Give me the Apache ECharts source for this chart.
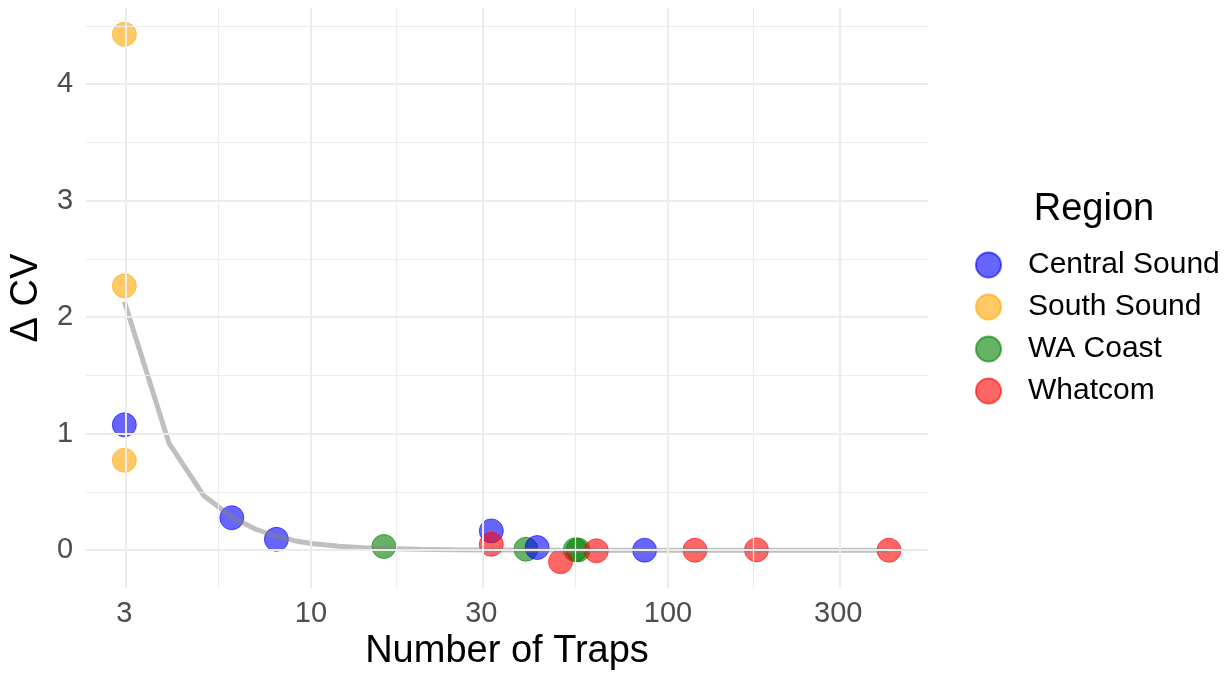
<!DOCTYPE html>
<html lang="en">
<head>
    <meta charset="UTF-8">
    <script src="https://cdn.jsdelivr.net/npm/echarts@6/dist/echarts.min.js"></script>
    <title>Delta CV vs Number of Traps</title>
    <style>
        body { margin: 0; background: #fff; }
    </style>
</head>
<body>
<div id="main" style="width: 1230px;height:676px;"></div>
<script type="text/javascript">
    var myChart = echarts.init(document.getElementById('main'));

    // data: number of traps (x) and delta CV (y)
    var centralTraps = [3, 6, 8, 32, 43, 86];
    var centralCV = [1.076, 0.279, 0.094, 0.166, 0.023, 0.0];
    var southTraps = [3, 3, 3];
    var southCV = [4.427, 2.269, 0.772];
    var coastTraps = [16, 40, 55, 56];
    var coastCV = [0.032, 0.009, 0.004, 0.002];
    var whatcomTraps = [32, 50, 63, 119, 177, 416];
    var whatcomCV = [0.051, -0.099, -0.005, 0.0, 0.003, 0.0];

    // fitted curve (grey line)
    var fitTraps = [3, 4, 5, 6, 7, 8, 9, 10, 12, 14, 16, 20, 25, 30, 40, 60, 100, 200, 416];
    var fitCV = [2.135, 0.92, 0.47, 0.285, 0.18, 0.12, 0.082, 0.058, 0.035, 0.022, 0.015, 0.008, 0.004, 0.002, 0.001, 0, 0, 0, 0];

    var xTicks = [3, 10, 30, 100, 300];
    var yTicks = [0, 1, 2, 3, 4];
    var regions = ['Central Sound', 'South Sound', 'WA Coast', 'Whatcom'];

    var font = "'Liberation Sans', Arial, sans-serif";

    function pairs(xs, ys) {
        return xs.map(function (x, i) { return [Math.log10(x), ys[i]]; });
    }

    // grid lines: majors at ticks, minors halfway (in log space for x)
    var xMajor = xTicks.map(Math.log10);
    var xMinor = [];
    for (var i = 0; i < xMajor.length - 1; i++) xMinor.push((xMajor[i] + xMajor[i + 1]) / 2);
    var yMinor = [-0.5];
    for (var j = 0; j < yTicks.length; j++) yMinor.push(yTicks[j] + 0.5);

    var gridLines = [];
    xMinor.forEach(function (v) { gridLines.push({xAxis: v, lineStyle: {width: 1.2}}); });
    yMinor.forEach(function (v) { if (v > -0.325 && v < 4.653) gridLines.push({yAxis: v, lineStyle: {width: 1.2}}); });
    xMajor.forEach(function (v) { gridLines.push({xAxis: v, lineStyle: {width: 2}}); });
    yTicks.forEach(function (v) { gridLines.push({yAxis: v, lineStyle: {width: 2}}); });

    function pointSeries(name, xs, ys, rgb) {
        var c = 'rgba(' + rgb + ',0.6)';
        return {
            name: name,
            type: 'scatter',
            symbolSize: 24,
            itemStyle: { color: c, borderColor: c, borderWidth: 1, opacity: 1 },
            data: pairs(xs, ys),
            z: 3
        };
    }

    option = {
        animation: false,
        grid: { left: 86, top: 8, width: 842, height: 582 },
        xAxis: {
            type: 'value',
            min: 0.3698,
            max: 2.7284,
            name: 'Number of Traps',
            nameLocation: 'middle',
            nameGap: 41,
            nameTextStyle: { fontSize: 38, color: '#000', fontFamily: font },
            axisLine: { show: false },
            axisTick: { show: false },
            splitLine: { show: false },
            axisLabel: {
                customValues: xMajor,
                formatter: function (v) { return String(Math.round(Math.pow(10, v))); },
                fontSize: 29, color: '#4D4D4D', fontFamily: font, margin: 11
            }
        },
        yAxis: {
            type: 'value',
            min: -0.325,
            max: 4.653,
            name: '\u0394 CV',
            nameLocation: 'middle',
            nameGap: 35,
            nameRotate: 90,
            nameTextStyle: { fontSize: 38, color: '#000', fontFamily: font },
            axisLine: { show: false },
            axisTick: { show: false },
            splitLine: { show: false },
            axisLabel: {
                customValues: yTicks,
                fontSize: 29, color: '#4D4D4D', fontFamily: font, margin: 13
            }
        },
        legend: {
            data: regions,
            orient: 'vertical',
            left: 970,
            top: 245,
            itemWidth: 25,
            itemHeight: 25,
            itemGap: 12,
            icon: 'circle',
            textStyle: { fontSize: 30, color: '#000', fontFamily: font, padding: [0, 0, 0, 22] }
        },
        graphic: {
            type: 'text',
            style: {
                text: 'Region', x: 1094, y: 210,
                textAlign: 'center', textVerticalAlign: 'middle',
                fontSize: 38, fill: '#000', fontFamily: font
            }
        },
        series: [
            {
                type: 'scatter',
                data: [],
                silent: true,
                z: 0,
                markLine: {
                    silent: true,
                    symbol: ['none', 'none'],
                    label: { show: false },
                    lineStyle: { color: '#EBEBEB', type: 'solid' },
                    data: gridLines
                }
            },
            pointSeries('South Sound', southTraps, southCV, '255,165,0'),
            pointSeries('WA Coast', coastTraps, coastCV, '0,128,0'),
            pointSeries('Central Sound', centralTraps, centralCV, '0,0,255'),
            pointSeries('Whatcom', whatcomTraps, whatcomCV, '255,0,0'),
            {
                name: 'fit',
                type: 'line',
                data: pairs(fitTraps, fitCV),
                showSymbol: false,
                symbol: 'none',
                lineStyle: { color: 'rgba(127,127,127,0.5)', width: 5 },
                z: 4
            }
        ]
    };

    myChart.setOption(option);
</script>
</body>
</html>
